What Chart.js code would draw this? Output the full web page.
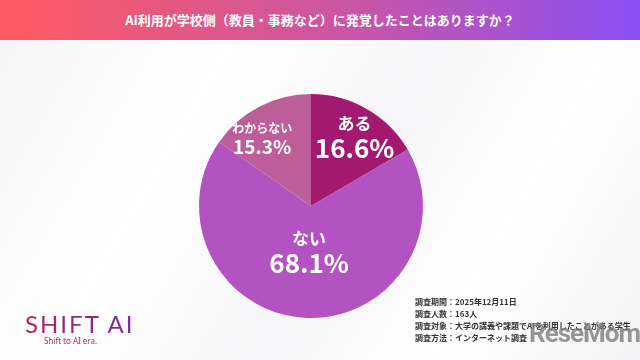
<!DOCTYPE html>
<html>
<head>
<meta charset="utf-8">
<script src="https://cdn.jsdelivr.net/npm/chart.js@4"></script>
<style>
  html, body { margin: 0; padding: 0; }
  body {
    width: 640px; height: 360px; overflow: hidden; position: relative;
    font-family: "Noto Sans CJK JP", "Noto Sans", sans-serif;
    background: linear-gradient(120deg, #f4f4f6 0%, #ffffff 30%, #f6f6f8 55%, #ffffff 75%, #f3f3f5 100%);
  }
  #bar {
    position: absolute; left: 0; top: 0; width: 640px; height: 40px;
    background: linear-gradient(90deg, #ff5a5f 0%, #c955a6 55%, #8a50f5 100%);
    color: #fff; font-weight: bold; font-size: 13px; line-height: 40px; text-align: center;
  }
  #chart { position: absolute; left: 0; top: 0; }
  #logo {
    position: absolute; left: 25px; top: 309px; font-family: "Lato", "Noto Sans", sans-serif;
    font-size: 24px; font-weight: 400; letter-spacing: 2px;
    background: linear-gradient(90deg, #b4215a, #7c2e9c);
    -webkit-background-clip: text; background-clip: text; color: transparent;
  }
  #tag { position: absolute; left: 44px; top: 335px; font-size: 8px; color: #a0306a; font-family: "Noto Sans", sans-serif; }
  #notes { position: absolute; left: 415px; top: 296px; font-size: 8px; line-height: 12px; color: #333; font-weight: bold; }
  #mark { position: absolute; left: 529px; top: 318px; font-size: 26px; font-weight: bold; color: rgba(125,125,125,0.8); font-family: "Roboto", sans-serif; letter-spacing: -1px; }
</style>
</head>
<body>
<div id="bar">AI利用が学校側（教員・事務など）に発覚したことはありますか？</div>
<canvas id="chart" width="640" height="360"></canvas>
<div id="logo">SHIFT AI</div>
<div id="tag">Shift to AI era.</div>
<div id="notes">
  調査期間：2025年12月11日<br>
  調査人数：163人<br>
  調査対象：大学の講義や課題でAIを利用したことがある学生<br>
  調査方法：インターネット調査
</div>
<div id="mark">ReseMom<span style="font-size:8px">.</span></div>
<script>
var answers = ['ある', 'ない', 'わからない'];
var shares = [16.6, 68.1, 15.3];
var sliceColors = ['#a3196f', '#b352c1', '#be5e98'];

// label placement: fraction of radius and angle nudge (radians)
var labelPlace = [
    { frac: 0.72, nudge: 0.05, name: 17, pct: 26 },
    { frac: 0.42, nudge: 0.0, name: 17, pct: 26 },
    { frac: 0.74, nudge: -0.15, name: 12, pct: 19 }
];

var sliceLabels = {
    id: 'sliceLabels',
    afterDatasetsDraw: function (chart) {
        var ctx = chart.ctx;
        var arcs = chart.getDatasetMeta(0).data;
        ctx.save();
        ctx.fillStyle = '#ffffff';
        ctx.textAlign = 'center';
        ctx.textBaseline = 'middle';
        arcs.forEach(function (arc, i) {
            var p = labelPlace[i];
            var mid = (arc.startAngle + arc.endAngle) / 2 + p.nudge;
            var r = arc.outerRadius * p.frac;
            var x = arc.x + Math.cos(mid) * r;
            var y = arc.y + Math.sin(mid) * r;
            ctx.font = 'bold ' + p.name + 'px "Noto Sans CJK JP"';
            ctx.fillText(answers[i], x, y - p.pct * 0.55);
            ctx.font = '600 ' + p.pct + 'px "Noto Sans CJK JP"';
            ctx.fillText(shares[i].toFixed(1) + '%', x, y + p.pct * 0.4);
        });
        ctx.restore();
    }
};

new Chart(document.getElementById('chart'), {
    type: 'pie',
    data: {
        labels: answers,
        datasets: [{
            data: shares,
            backgroundColor: sliceColors,
            borderWidth: 0
        }]
    },
    options: {
        responsive: false,
        animation: false,
        layout: { padding: { top: 94, bottom: 42, left: 199, right: 217 } },
        plugins: {
            legend: { display: false },
            tooltip: { enabled: false }
        }
    },
    plugins: [sliceLabels]
});
</script>
</body>
</html>
